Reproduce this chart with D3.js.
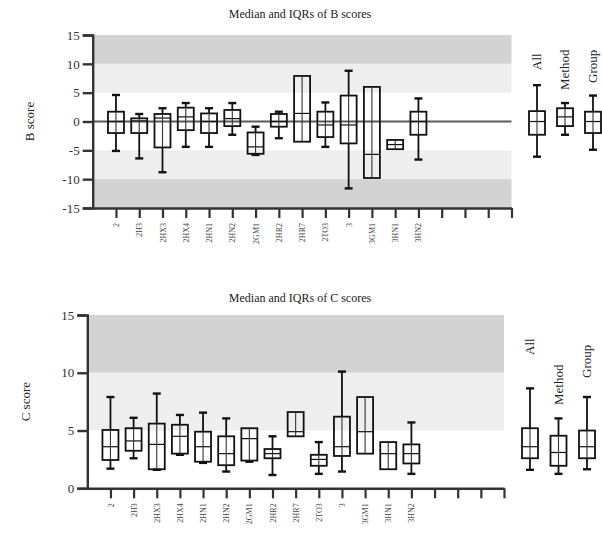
<!DOCTYPE html>
<html>
<head>
<meta charset="utf-8">
<script src="https://cdn.jsdelivr.net/npm/d3@7"></script>
<style>
  body { margin: 0; background: #fff; }
  svg { font-family: "Liberation Serif", "DejaVu Serif", serif; }
</style>
</head>
<body>
<div id="container"></div>
<script>
// categories on the x axis (ticks 15-18 are empty)
const categories = ["2", "2H3", "2HX3", "2HX4", "2HN1", "2HN2", "2GM1", "2HR2", "2HR7", "2TO3", "3", "3GM1", "3HN1", "3HN2"];
const summaryNames = ["All", "Method", "Group"];

// B scores: whisker low, Q1, median, Q3, whisker high
const bMin = [-5.1, -6.4, -8.8, -4.4, -4.4, -2.3, -5.8, -2.9, -3.5, -4.4, -11.6, -9.8, -4.8, -6.6];
const bQ1  = [-2.0, -2.0, -4.5, -1.5, -2.0, -0.8, -5.6, -0.9, -3.5, -2.7, -3.8, -9.8, -4.8, -2.3];
const bMed = [0.0, 0.1, 0.6, 0.8, 0.0, 0.5, -4.4, 0.0, 1.4, -0.6, -0.6, -5.7, -4.0, 0.0];
const bQ3  = [1.7, 0.55, 1.3, 2.4, 1.4, 2.0, -1.9, 1.3, 7.9, 1.7, 4.5, 6.0, -3.2, 1.7];
const bMax = [4.6, 1.3, 2.3, 3.2, 2.3, 3.2, -0.9, 1.7, 7.9, 3.3, 8.8, 6.0, -3.2, 4.0];
const bSumMin = [-6.1, -2.3, -4.9];
const bSumQ1  = [-2.3, -0.8, -2.0];
const bSumMed = [0.0, 0.8, 0.0];
const bSumQ3  = [1.8, 2.3, 1.7];
const bSumMax = [6.3, 3.2, 4.5];

// C scores
const cMin = [1.7, 2.6, 1.6, 2.9, 2.2, 1.45, 2.3, 1.15, 4.5, 1.25, 1.45, 3.0, 1.65, 1.25];
const cQ1  = [2.45, 3.25, 1.65, 3.0, 2.3, 2.0, 2.4, 2.6, 4.5, 1.95, 2.8, 3.0, 1.65, 2.15];
const cMed = [3.6, 4.1, 3.8, 4.5, 3.6, 3.0, 4.3, 3.0, 4.9, 2.5, 3.6, 4.9, 3.0, 3.0];
const cQ3  = [5.05, 5.2, 5.6, 5.5, 4.9, 4.5, 5.2, 3.4, 6.6, 2.9, 6.2, 7.9, 4.0, 3.8];
const cMax = [7.9, 6.1, 8.2, 6.35, 6.55, 6.05, 5.2, 4.5, 6.6, 4.0, 10.1, 7.9, 4.0, 5.7];
const cSumMin = [1.6, 1.25, 1.65];
const cSumQ1  = [2.6, 1.95, 2.6];
const cSumMed = [3.6, 3.1, 3.6];
const cSumQ3  = [5.2, 4.55, 5.0];
const cSumMax = [8.65, 6.05, 7.9];

const bTicks = [15, 10, 5, 0, -5, -10, -15];
const cTicks = [15, 10, 5, 0];
// shaded bands [from, to, colour key]
const bBands = [[10, 15, "dark"], [5, 10, "light"], [-10, -5, "light"], [-15, -10, "dark"]];
const cBands = [[10, 15, "dark"], [5, 10, "light"]];

const bandColour = { dark: "#d3d3d3", light: "#eeeeee" };
const nTicks = 18;

const svg = d3.select("#container").append("svg")
  .attr("width", 602).attr("height", 551);

function toRows(mn, q1, md, q3, mx) {
  return mn.map((d, i) => ({ i, min: mn[i], q1: q1[i], med: md[i], q3: q3[i], max: mx[i] }));
}

function drawPanel(p) {
  const g = svg.append("g");
  const x = d3.scaleLinear().domain([0, nTicks]).range([p.x0, p.x1]);
  const y = d3.scaleLinear().domain(p.domain).range([p.yBot, p.yTop]);
  const xs = d3.scalePoint().domain(summaryNames).range(p.sumRange);

  // bands
  g.selectAll(".band").data(p.bands).enter().append("rect")
    .attr("x", p.x0).attr("width", p.x1 - p.x0)
    .attr("y", d => y(d[1])).attr("height", d => y(d[0]) - y(d[1]))
    .attr("fill", d => bandColour[d[2]]);

  if (p.zeroLine) {
    g.append("line")
      .attr("x1", p.x0).attr("x2", p.x1)
      .attr("y1", y(0)).attr("y2", y(0))
      .attr("stroke", "#5a5a5a").attr("stroke-width", 2);
  }

  // title
  svg.append("text").attr("x", 300).attr("y", p.titleY)
    .attr("text-anchor", "middle").attr("font-size", 12).attr("fill", "#222")
    .text(p.title);

  // y label
  svg.append("text")
    .attr("transform", `translate(${p.yLabelX},${(p.yTop + p.yBot) / 2}) rotate(-90)`)
    .attr("text-anchor", "middle").attr("font-size", 13).attr("fill", "#222")
    .text(p.yLabel);

  // y axis
  const yAxis = g.append("g").attr("transform", `translate(${p.x0},0)`)
    .call(d3.axisLeft(y).tickValues(p.ticks).tickSize(10).tickPadding(3)
      .tickFormat(d => d < 0 ? "-" + Math.abs(d) : d));
  yAxis.select(".domain").attr("stroke", "#333").attr("stroke-width", 2.4);
  yAxis.selectAll(".tick line").attr("stroke", "#333").attr("stroke-width", 2.4);
  yAxis.selectAll("text").attr("font-size", 13).attr("fill", "#333")
    .attr("font-family", "Liberation Serif, serif");

  // x axis
  const xAxis = g.append("g").attr("transform", `translate(0,${p.yBot})`)
    .call(d3.axisBottom(x).tickValues(d3.range(1, nTicks + 1)).tickSize(10)
      .tickFormat(d => categories[d - 1] || "").tickSizeOuter(0));
  xAxis.select(".domain").attr("stroke", "#333").attr("stroke-width", 2.4);
  xAxis.selectAll(".tick line").attr("stroke", "#333").attr("stroke-width", 2.2);
  xAxis.selectAll("text")
    .attr("font-size", 8).attr("fill", "#444")
    .attr("font-family", "Liberation Serif, serif")
    .attr("text-anchor", "end")
    .attr("transform", "rotate(-90)")
    .attr("x", -15).attr("y", 0).attr("dy", "0.32em");

  function boxes(rows, xpos, cls) {
    const bw = 16, cap = 8;
    const grp = g.selectAll("." + cls).data(rows).enter().append("g")
      .attr("stroke", "#111").attr("stroke-width", 1.8).attr("fill", "none");
    grp.append("line")
      .attr("x1", xpos).attr("x2", xpos)
      .attr("y1", d => y(d.max)).attr("y2", d => y(d.q3));
    grp.append("line")
      .attr("x1", xpos).attr("x2", xpos)
      .attr("y1", d => y(d.q1)).attr("y2", d => y(d.min));
    grp.filter(d => d.max > d.q3).append("line")
      .attr("x1", d => xpos(d) - cap / 2).attr("x2", d => xpos(d) + cap / 2)
      .attr("y1", d => y(d.max)).attr("y2", d => y(d.max)).attr("stroke-width", 2.4);
    grp.filter(d => d.min < d.q1).append("line")
      .attr("x1", d => xpos(d) - cap / 2).attr("x2", d => xpos(d) + cap / 2)
      .attr("y1", d => y(d.min)).attr("y2", d => y(d.min)).attr("stroke-width", 2.4);
    grp.append("rect")
      .attr("x", d => xpos(d) - bw / 2).attr("width", bw)
      .attr("y", d => y(d.q3)).attr("height", d => Math.max(1, y(d.q1) - y(d.q3)));
    grp.append("line")
      .attr("x1", d => xpos(d) - bw / 2).attr("x2", d => xpos(d) + bw / 2)
      .attr("y1", d => y(d.med)).attr("y2", d => y(d.med)).attr("stroke-width", 1.2);
    // whisker through the box, as in the reference
    grp.append("line")
      .attr("x1", xpos).attr("x2", xpos)
      .attr("y1", d => y(d.q3)).attr("y2", d => y(d.q1))
      .attr("stroke-width", 1.1).attr("stroke", "#333");
  }

  boxes(p.rows, d => x(d.i + 1), "cat");
  boxes(p.sumRows, d => xs(summaryNames[d.i]), "sum");

  // summary labels
  svg.selectAll(null).data(summaryNames).enter().append("text")
    .attr("transform", (d, i) => `translate(${xs(d) + 4},${p.sumLabelY[i]}) rotate(-90)`)
    .attr("text-anchor", "start").attr("font-size", 13).attr("fill", "#222")
    .text(d => d);
}

drawPanel({
  title: "Median and IQRs of B scores", titleY: 18,
  yLabel: "B score", yLabelX: 34,
  x0: 92.7, x1: 511.5, yTop: 35, yBot: 208, domain: [-15, 15],
  ticks: bTicks, bands: bBands, zeroLine: true,
  rows: toRows(bMin, bQ1, bMed, bQ3, bMax),
  sumRows: toRows(bSumMin, bSumQ1, bSumMed, bSumQ3, bSumMax),
  sumRange: [537, 593], sumLabelY: [70, 90, 83]
});

drawPanel({
  title: "Median and IQRs of C scores", titleY: 302,
  yLabel: "C score", yLabelX: 30,
  x0: 87.3, x1: 504, yTop: 315, yBot: 488.3, domain: [0, 15],
  ticks: cTicks, bands: cBands, zeroLine: false,
  rows: toRows(cMin, cQ1, cMed, cQ3, cMax),
  sumRows: toRows(cSumMin, cSumQ1, cSumMed, cSumQ3, cSumMax),
  sumRange: [530, 587], sumLabelY: [355, 405, 378]
});
</script>
</body>
</html>
